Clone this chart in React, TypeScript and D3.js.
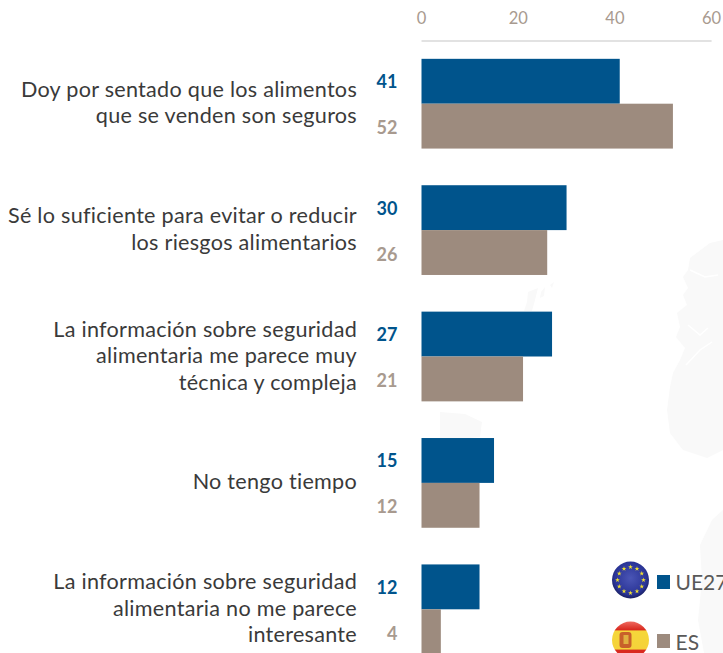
import React from "react";
import * as d3 from "d3";

const categories = ["c1", "c2", "c3", "c4", "c5"];
const labels = [
  ["Doy por sentado que los alimentos", "que se venden son seguros"],
  ["Sé lo suficiente para evitar o reducir", "los riesgos alimentarios"],
  ["La información sobre seguridad", "alimentaria me parece muy", "técnica y compleja"],
  ["No tengo tiempo"],
  ["La información sobre seguridad", "alimentaria no me parece", "interesante"],
];
const ue27 = [41, 30, 27, 15, 12];
const es = [52, 26, 21, 12, 4];
const ticks = [0, 20, 40, 60];

const BLUE = "#00548c";
const TAN = "#9d8b7e";
const TAN_TEXT = "#a89a8f";

const x = d3.scaleLinear().domain([0, 60]).range([421.5, 711.6]);
const y = d3.scaleBand().domain(categories).range([40.5, 672.5]).paddingInner(0.29).paddingOuter(0.145);
const sub = d3.scaleBand().domain(["ue", "es"]).range([0, y.bandwidth()]);

const starAngles = d3.range(12).map((i) => (i * Math.PI) / 6);
const star = d3.symbol().type(d3.symbolStar).size(7);

export default function App() {
  return (
    <svg width={723} height={653} style={{ position: "fixed", left: 0, top: 0, background: "#fff", fontFamily: "Lato" }}>
      <defs>
        <radialGradient id="eu" cx="50%" cy="45%" r="55%">
          <stop offset="0%" stopColor="#4a55b5" />
          <stop offset="80%" stopColor="#2a3496" />
          <stop offset="100%" stopColor="#1a2060" />
        </radialGradient>
        <linearGradient id="sp" x1="0" x2="0" y1="0" y2="1">
          <stop offset="0%" stopColor="#ee6a60" />
          <stop offset="22%" stopColor="#d92a20" />
          <stop offset="26%" stopColor="#f5d73a" />
          <stop offset="74%" stopColor="#f5d23a" />
          <stop offset="78%" stopColor="#d92a20" />
          <stop offset="100%" stopColor="#d92a20" />
        </linearGradient>
      </defs>
      {/* faint map */}
      <g fill="#f9f9f9">
        <path d="M690 258L688 270L683 277L688 288L683 295L687 305L677 313L680 327L676 337L685 348L680 360L673 373L670 387L667 410L670 433L683 450L707 458L723 450L723 240L710 243Z" />
        <path d="M528 292L538 288L535 300L532 311L524 311L527 302Z" />
        <path d="M541 292L545 287L544 296L540 298Z" />
        <path d="M550 285L554 282L552 288Z" />
        <path d="M440 412L465 414L482 422L480 437L440 441Z" />
        <path d="M712 520L723 510L723 653L704 653L698 620L702 580L700 545Z" />
      </g>
      <g fill="none" stroke="#fff" strokeWidth={1.5}>
        <path d="M690 270L705 277L718 275" />
        <path d="M688 325L700 335L708 328" />
        <path d="M686 365L700 350L712 342" />
      </g>

      {ticks.map((t) => (
        <text key={t} x={x(t)} y={23.5} textAnchor="middle" fontSize={16.5} fill={TAN_TEXT}>{t}</text>
      ))}
      <line x1={x(0)} x2={x(60)} y1={41} y2={41} stroke="#d9d9d9" strokeWidth={1.5} />

      {categories.map((c, i) => {
        const y0 = y(c)!;
        const n = labels[i].length;
        const lh = 26.5;
        const cy = y0 + y.bandwidth() / 2;
        return (
          <g key={c}>
            <rect x={x(0)} y={y0 + sub("ue")!} width={x(ue27[i]) - x(0)} height={sub.bandwidth()} fill={BLUE} />
            <rect x={x(0)} y={y0 + sub("es")!} width={x(es[i]) - x(0)} height={sub.bandwidth()} fill={TAN} />
            <text x={397.5} y={y0 + sub("ue")! + sub.bandwidth() / 2 + 7} textAnchor="end" fontSize={18} fontWeight={700} fill={BLUE}>{ue27[i]}</text>
            <text x={397.5} y={y0 + sub("es")! + sub.bandwidth() / 2 + 8} textAnchor="end" fontSize={18} fontWeight={700} fill={TAN_TEXT}>{es[i]}</text>
            {labels[i].map((l, j) => (
              <text key={j} x={357} y={cy + (j - (n - 1) / 2) * lh + 6.5} textAnchor="end" fontSize={21.6} letterSpacing={0.27} fill="#3a3a3a">{l}</text>
            ))}
          </g>
        );
      })}

      <g transform="translate(630.5,580)">
        <circle r={18.5} fill="url(#eu)" />
        {starAngles.map((a, i) => (
          <path key={i} d={star()!} transform={`translate(${13 * Math.sin(a)},${-13 * Math.cos(a)})`} fill="#f0e030" />
        ))}
      </g>
      <rect x={657} y={575} width={13} height={14} fill={BLUE} />
      <text x={675.5} y={590} fontSize={21} fill="#595959">UE27</text>

      <g transform="translate(630.5,640)">
        <circle r={18.5} fill="url(#sp)" />
        <rect x={-11} y={-8} width={12} height={16} rx={3} fill="#c8602a" />
        <rect x={-7} y={-5} width={5} height={9} fill="#e0b040" />
      </g>
      <rect x={657} y={634} width={13} height={14} fill={TAN} />
      <text x={675.5} y={650} fontSize={21} fill="#595959">ES</text>
    </svg>
  );
}
